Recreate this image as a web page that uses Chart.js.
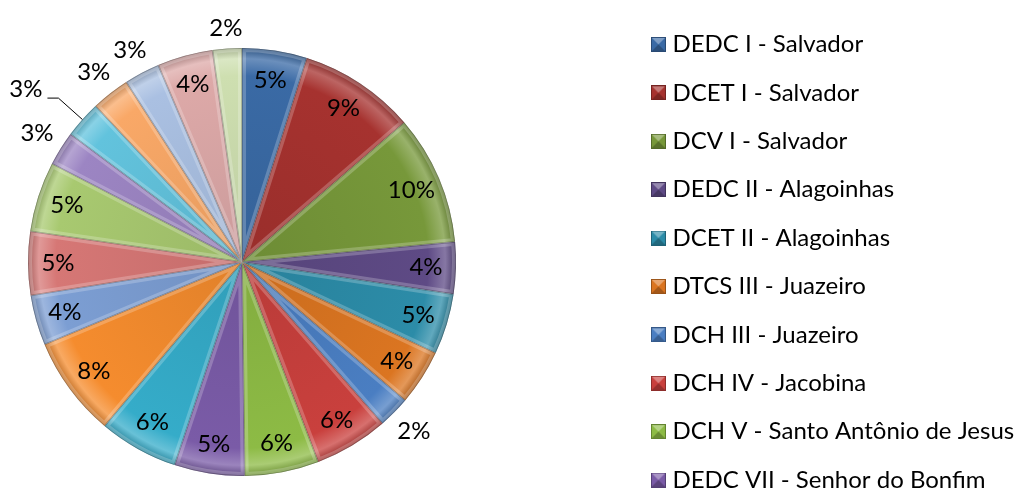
<!DOCTYPE html>
<html>
<head>
<meta charset="utf-8">
<script src="https://cdn.jsdelivr.net/npm/chart.js@4/dist/chart.umd.min.js"></script>
<style>
  html, body { margin: 0; padding: 0; background: #fff; }
  #wrap { width: 1016px; height: 489px; }
</style>
</head>
<body>
<div id="wrap"><canvas id="chart" width="1016" height="489"></canvas></div>
<script>
/* =====================
   DADOS
===================== */
const labels = [
    'DEDC I - Salvador',
    'DCET I - Salvador',
    'DCV I - Salvador',
    'DEDC II - Alagoinhas',
    'DCET II - Alagoinhas',
    'DTCS III - Juazeiro',
    'DCH III - Juazeiro',
    'DCH IV - Jacobina',
    'DCH V - Santo Antônio de Jesus',
    'DEDC VII - Senhor do Bonfim',
    'DCH VI - Caetité',
    'DEDC VIII - Paulo Afonso',
    'DCH IX - Barreiras',
    'DEDC X - Teixeira de Freitas',
    'DEDC XI - Serrinha',
    'DEDC XII - Guanambi',
    'DCHT XIII - Itaberaba',
    'DEDC XIV - Conceição do Coité',
    'DCHT XV - Valença',
    'DCHT XVI - Irecê',
    'DCHT XVII - Bom Jesus da Lapa',
];

// share of each department (%)
const shares = [4.9, 8.8, 9.8, 3.9, 4.6, 4.2, 2.4, 5.6, 5.6, 5.3, 6.0, 7.6, 3.8, 4.8, 5.3, 2.6, 2.8, 2.9, 2.7, 4.2, 2.2];

// only the first entries fit in the legend box
const legendCount = 10;

const colors = [
    '#3A6AA5', '#A6322F', '#77983A', '#5E4A85', '#2C8CA8', '#DB7521',
    '#4A7EC2', '#C9403D', '#8DBB45', '#7A5BA7', '#35ACC9', '#F58C2E',
    '#7C9ED3', '#D67775', '#A8C970', '#9C85C3', '#62C3DD', '#F9A867',
    '#AAC0E2', '#DDA9A8', '#CEDFB0',
];

const FONT = 'Lato';
const FONT_SIZE = 24;
const calloutIndex = 16;

/* =====================
   HELPERS
===================== */
const mix = (hex, target, t) => {
    const a = parseInt(hex.slice(1), 16);
    const r = (a >> 16) & 255, g = (a >> 8) & 255, b = a & 255;
    const m = (c) => Math.round(c + (target - c) * t);
    return `rgb(${m(r)},${m(g)},${m(b)})`;
};

const swatch = (color) => {
    const c = document.createElement('canvas');
    c.width = 15;
    c.height = 15;
    const g = c.getContext('2d');
    g.fillStyle = color;
    g.fillRect(0, 0, 15, 15);
    g.fillStyle = mix(color, 255, 0.35);
    g.beginPath(); g.moveTo(0, 0); g.lineTo(15, 0); g.lineTo(7.5, 7.5); g.fill();
    g.fillStyle = mix(color, 0, 0.25);
    g.beginPath(); g.moveTo(0, 15); g.lineTo(15, 15); g.lineTo(7.5, 7.5); g.fill();
    g.strokeStyle = mix(color, 0, 0.3);
    g.strokeRect(0.5, 0.5, 14, 14);
    return c;
};

const sliceFill = (context) => {
    const area = context.chart.chartArea;
    const base = colors[context.dataIndex];
    if (!area) return base;
    const cx = (area.left + area.right) / 2;
    const cy = (area.top + area.bottom) / 2;
    const r = Math.min(area.width, area.height) / 2;
    const grad = context.chart.ctx.createRadialGradient(cx, cy, 0, cx, cy, r);
    grad.addColorStop(0, mix(base, 0, 0.08));
    grad.addColorStop(0.87, base);
    grad.addColorStop(0.95, mix(base, 255, 0.25));
    grad.addColorStop(1, mix(base, 0, 0.22));
    return grad;
};

/* =====================
   PLUGINS
===================== */
const placement = {
    id: 'placement',
    afterLayout(chart) {
        chart.chartArea = { left: 28, top: 48, right: 456, bottom: 476, width: 428, height: 428 };
        const lg = chart.legend;
        lg.left = 632;
        lg.right = 1016;
        lg.width = 384;
        lg.top = 8;
        lg.bottom = 700;
        lg.height = 692;
    },
};

const bevel = {
    id: 'bevel',
    afterDatasetsDraw(chart) {
        const ctx = chart.ctx;
        chart.getDatasetMeta(0).data.forEach((arc) => {
            const { x, y, startAngle, endAngle, outerRadius } =
                arc.getProps(['x', 'y', 'startAngle', 'endAngle', 'outerRadius'], true);
            ctx.save();
            ctx.beginPath();
            ctx.moveTo(x, y);
            ctx.arc(x, y, outerRadius, startAngle, endAngle);
            ctx.closePath();
            ctx.clip();
            ctx.lineJoin = 'round';
            ctx.lineWidth = 8;
            ctx.strokeStyle = 'rgba(255,255,255,0.22)';
            ctx.stroke();
            ctx.lineWidth = 1.6;
            ctx.strokeStyle = 'rgba(0,0,0,0.25)';
            ctx.stroke();
            ctx.restore();
        });
    },
};

const pctLabels = {
    id: 'pctLabels',
    afterDatasetsDraw(chart) {
        const ctx = chart.ctx;
        const total = shares.reduce((a, b) => a + b, 0);
        ctx.save();
        ctx.font = `${FONT_SIZE}px ${FONT}`;
        ctx.fillStyle = '#000';
        ctx.textBaseline = 'middle';
        chart.getDatasetMeta(0).data.forEach((arc, i) => {
            const { x, y, startAngle, endAngle, outerRadius: r } =
                arc.getProps(['x', 'y', 'startAngle', 'endAngle', 'outerRadius'], true);
            const part = shares[i] / total;
            const text = Math.round(part * 100) + '%';
            const mid = (startAngle + endAngle) / 2;
            const cos = Math.cos(mid), sin = Math.sin(mid);
            ctx.textAlign = 'center';
            if (part >= 0.035) {
                ctx.fillText(text, x + cos * r * 0.86, y + sin * r * 0.86);
            } else if (i === calloutIndex) {
                const ex = x + cos * r, ey = y + sin * r;
                const bx = x + cos * r * 1.15, by = y + sin * r * 1.15;
                const hx = bx - 11;
                ctx.beginPath();
                ctx.moveTo(ex, ey);
                ctx.lineTo(bx, by);
                ctx.lineTo(hx, by);
                ctx.lineWidth = 1;
                ctx.strokeStyle = '#000';
                ctx.stroke();
                ctx.textAlign = 'right';
                ctx.fillText(text, hx - 5, by - 9);
            } else {
                const hw = ctx.measureText(text).width / 2;
                const d = r + 8 + Math.abs(cos) * hw + Math.abs(sin) * 11;
                ctx.fillText(text, x + cos * d, y + sin * d);
            }
        });
        ctx.restore();
    },
};

/* =====================
   CHART
===================== */
const draw = () => {
    new Chart(document.getElementById('chart'), {
        type: 'pie',
        data: {
            labels: labels,
            datasets: [
                {
                    data: shares,
                    backgroundColor: sliceFill,
                    borderWidth: 0,
                },
            ],
        },
        options: {
            responsive: false,
            animation: false,
            layout: { padding: 0 },
            plugins: {
                tooltip: { enabled: false },
                legend: {
                    position: 'right',
                    align: 'start',
                    labels: {
                        usePointStyle: true,
                        boxWidth: 4,
                        padding: 24.4,
                        color: '#000',
                        font: { family: FONT, size: FONT_SIZE },
                        generateLabels: () =>
                            labels.slice(0, legendCount).map((text, i) => ({
                                text: text,
                                fillStyle: colors[i],
                                strokeStyle: colors[i],
                                lineWidth: 0,
                                pointStyle: swatch(colors[i]),
                                fontColor: '#000',
                                hidden: false,
                                index: i,
                            })),
                    },
                },
            },
        },
        plugins: [placement, bevel, pctLabels],
    });
};

document.fonts.load(`${FONT_SIZE}px ${FONT}`).then(draw, draw);
</script>
</body>
</html>
